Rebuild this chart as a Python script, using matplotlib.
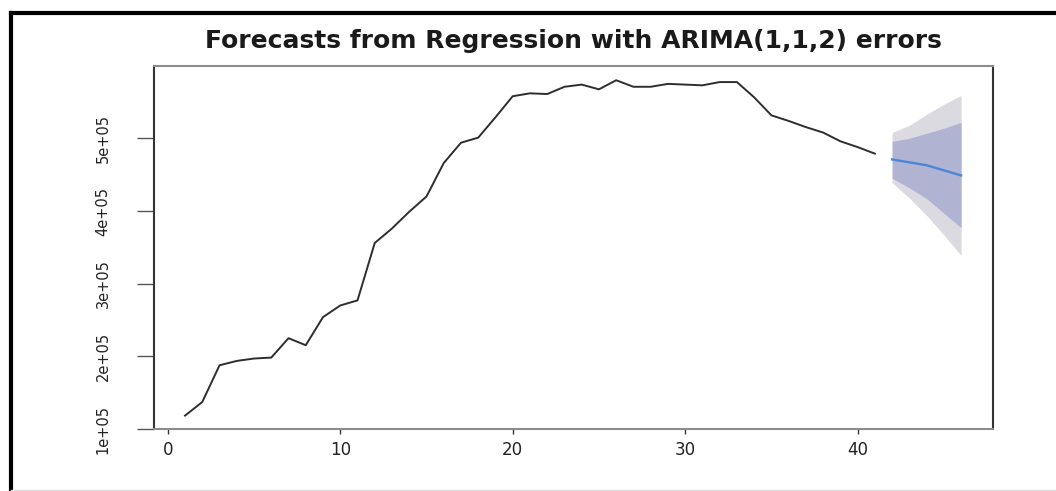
import matplotlib
matplotlib.use("Agg")
import matplotlib.pyplot as plt
from matplotlib.lines import Line2D

# Observed series (t = 1..41)
obs_t = list(range(1, 42))
obs_y = [118400, 137200, 187700, 193700, 197000, 198300, 225000, 215300,
         254000, 270000, 277000, 356000, 376000, 399000, 420000, 466000,
         494000, 501000, 529000, 558000, 562000, 561000, 571000, 574000,
         567500, 580000, 571000, 571000, 575000, 574000, 573000, 577500,
         577500, 556500, 531700, 524000, 515500, 508000, 496000, 488000,
         479000]

# Forecast horizon (t = 42..46)
fc_t = [42, 43, 44, 45, 46]
fc_mean = [471000, 467000, 463000, 456000, 449000]
fc_lo80 = [445000, 432000, 417000, 397000, 377000]
fc_hi80 = [496000, 500000, 507000, 514000, 522000]
fc_lo95 = [439000, 418000, 394000, 367000, 339000]
fc_hi95 = [508000, 518000, 533000, 547000, 559000]

x_ticks = [0, 10, 20, 30, 40]
y_ticks = [100000, 200000, 300000, 400000, 500000]
y_tick_labels = ["1e+05", "2e+05", "3e+05", "4e+05", "5e+05"]
title = "Forecasts from Regression with ARIMA(1,1,2) errors"

W, H = 1056, 491
fig = plt.figure(figsize=(W / 100, H / 100), dpi=100)
fig.patch.set_facecolor("white")

ax = fig.add_axes([154 / W, 1 - 429 / H, (993 - 154) / W, (429 - 66) / H])

ax.fill_between(fc_t, fc_lo95, fc_hi95, color="#dadae0", linewidth=0)
ax.fill_between(fc_t, fc_lo80, fc_hi80, color="#b1b3d3", linewidth=0)
ax.plot(obs_t, obs_y, color="#2e2e2e", lw=1.4)
ax.plot(fc_t, fc_mean, color="#4a86d8", lw=1.7)

ax.set_xlim(-0.8, 47.85)
ax.set_ylim(100000, 599600)

ax.set_xticks(x_ticks)
ax.set_xticklabels([str(v) for v in x_ticks])
ax.set_yticks(y_ticks)
ax.set_yticklabels(y_tick_labels, rotation=90, va="center")

ax.tick_params(axis="x", direction="out", length=3.6, width=1.0,
               colors="#333333", labelsize=12, pad=5, labelcolor="#222222")
ax.tick_params(axis="y", direction="out", length=12.2, width=1.0,
               colors="#555555", labelsize=10.5, pad=19, labelcolor="#222222")

for side, col in (("left", "#333333"), ("right", "#333333"),
                  ("top", "#8c8c8c"), ("bottom", "#8c8c8c")):
    ax.spines[side].set_color(col)
    ax.spines[side].set_linewidth(1.5)

fig.text(573 / W, 1 - 41 / H, title, ha="center", va="center",
         fontsize=18, fontweight="bold", color="#1a1a1a",
         family="DejaVu Sans")

# Frame around the figure: heavy top and left edges, faint bottom edge
fig.add_artist(Line2D([11 / W, 1.0], [1 - 13 / H, 1 - 13 / H],
                      transform=fig.transFigure, color="black", lw=3))
fig.add_artist(Line2D([11 / W, 11 / W], [0.0, 1 - 13 / H],
                      transform=fig.transFigure, color="black", lw=3))
fig.add_artist(Line2D([11 / W, 1.0], [1 - 489.5 / H, 1 - 489.5 / H],
                      transform=fig.transFigure, color="#dcdcdc", lw=1))

fig.savefig("out.png", dpi=100)
